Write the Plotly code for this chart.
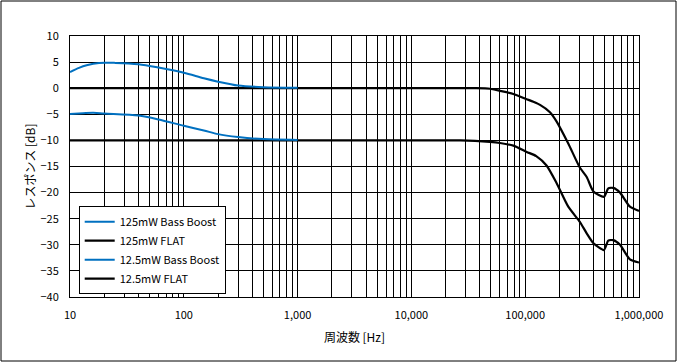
import plotly.graph_objects as go

# ---- data ----
bb_freq_125 = [10, 12, 14, 18, 25, 40, 60, 100, 150, 200, 300, 500, 1000]
bb_db_125 = [3.1, 3.9, 4.4, 4.85, 4.85, 4.6, 3.95, 2.95, 1.9, 1.25, 0.5, 0.2, 0.1]

bb_freq_12 = [10, 13, 16, 20, 40, 60, 100, 150, 200, 300, 500, 1000]
bb_db_12 = [-4.95, -4.8, -4.7, -4.85, -5.25, -6.0, -7.2, -8.1, -8.8, -9.35, -9.75, -9.9]

flat_freq_125 = [10, 1000, 10000, 37000, 49000, 60000, 78700, 103000, 118000, 135000, 165000,
                 189000, 239000, 302000, 347000, 398000, 492000, 537000, 594000, 681000,
                 832000, 1000000]
flat_db_125 = [0, 0, 0, 0, -0.1, -0.5, -1.1, -2.1, -2.6, -3.2, -4.6,
               -6.4, -10.6, -15.2, -17.0, -19.8, -20.8, -19.2, -19.1, -20.0,
               -22.7, -23.5]

flat_freq_12 = [10, 1000, 10000, 27000, 49000, 60000, 78700, 103000, 125000, 154000,
                189000, 239000, 302000, 347000, 398000, 492000, 537000, 594000, 681000,
                832000, 1000000]
flat_db_12 = [-10, -10, -10, -10, -10.3, -10.5, -11.0, -12.2, -13.0, -14.8,
              -18.2, -22.7, -25.6, -27.8, -29.7, -31.0, -29.2, -29.1, -30.0,
              -32.8, -33.4]

series_names = ["125mW Bass Boost", "125mW FLAT", "12.5mW Bass Boost", "12.5mW FLAT"]

y_ticks = [10, 5, 0, -5, -10, -15, -20, -25, -30, -35, -40]
y_labels = ["10", "5", "0", "\u22125", "\u221210", "\u221215", "\u221220",
            "\u221225", "\u221230", "\u221235", "\u221240"]

decade_labels = {10: "10", 100: "100", 1000: "1,000", 10000: "10,000",
                 100000: "100,000", 1000000: "1,000,000"}

x_tickvals = []
x_ticktext = []
for d in [10, 100, 1000, 10000, 100000]:
    for m in range(1, 10):
        v = d * m
        x_tickvals.append(v)
        x_ticktext.append(decade_labels.get(v, ""))
x_tickvals.append(1000000)
x_ticktext.append(decade_labels[1000000])

BLUE = "#0070C0"
FONT = "Noto Sans CJK JP"

fig = go.Figure()
fig.add_trace(go.Scatter(x=flat_freq_125, y=flat_db_125, name=series_names[1], mode="lines",
                         line=dict(color="black", width=2.2, shape="spline", smoothing=0.6),
                         legendrank=2))
fig.add_trace(go.Scatter(x=flat_freq_12, y=flat_db_12, name=series_names[3], mode="lines",
                         line=dict(color="black", width=2.2, shape="spline", smoothing=0.6),
                         legendrank=4))
fig.add_trace(go.Scatter(x=bb_freq_125, y=bb_db_125, name=series_names[0], mode="lines",
                         line=dict(color=BLUE, width=2, shape="spline", smoothing=0.8),
                         legendrank=1))
fig.add_trace(go.Scatter(x=bb_freq_12, y=bb_db_12, name=series_names[2], mode="lines",
                         line=dict(color=BLUE, width=2, shape="spline", smoothing=0.8),
                         legendrank=3))

fig.update_layout(
    width=678, height=363,
    margin=dict(l=70, r=39, t=36, b=66),
    paper_bgcolor="white", plot_bgcolor="white",
    font=dict(family=FONT, size=11, color="black"),
    showlegend=True,
    legend=dict(x=0.0153, y=0.348, xanchor="left", yanchor="top",
                bgcolor="white", bordercolor="black", borderwidth=1,
                font=dict(family=FONT, size=11, color="black"),
                traceorder="normal"),
    xaxis=dict(type="log", range=[1, 6], tickmode="array", tickvals=x_tickvals,
               ticktext=x_ticktext, showgrid=True, gridcolor="black", gridwidth=1,
               showline=True, linecolor="black", linewidth=1, mirror=True,
               ticks="", zeroline=False, ticklabelstandoff=8,
               title=dict(text="周波数 [Hz]", font=dict(family=FONT, size=12), standoff=12)),
    yaxis=dict(range=[-40, 10], tickmode="array", tickvals=y_ticks, ticktext=y_labels,
               showgrid=True, gridcolor="black", gridwidth=1,
               showline=True, linecolor="black", linewidth=1, mirror=True,
               ticks="", zeroline=False, ticklabelstandoff=8,
               title=dict(text="レスポンス [dB]", font=dict(family=FONT, size=12), standoff=2)),
    shapes=[dict(type="rect", xref="paper", yref="paper",
                 x0=(1 - 70) / 569, x1=(676 - 70) / 569,
                 y0=(297 - 361) / 261, y1=(297 - 1) / 261,
                 line=dict(color="black", width=1), fillcolor="rgba(0,0,0,0)", layer="below")],
)

fig.write_html("out.html", config={"displayModeBar": False},
               post_script="document.body.style.margin='0px';")
